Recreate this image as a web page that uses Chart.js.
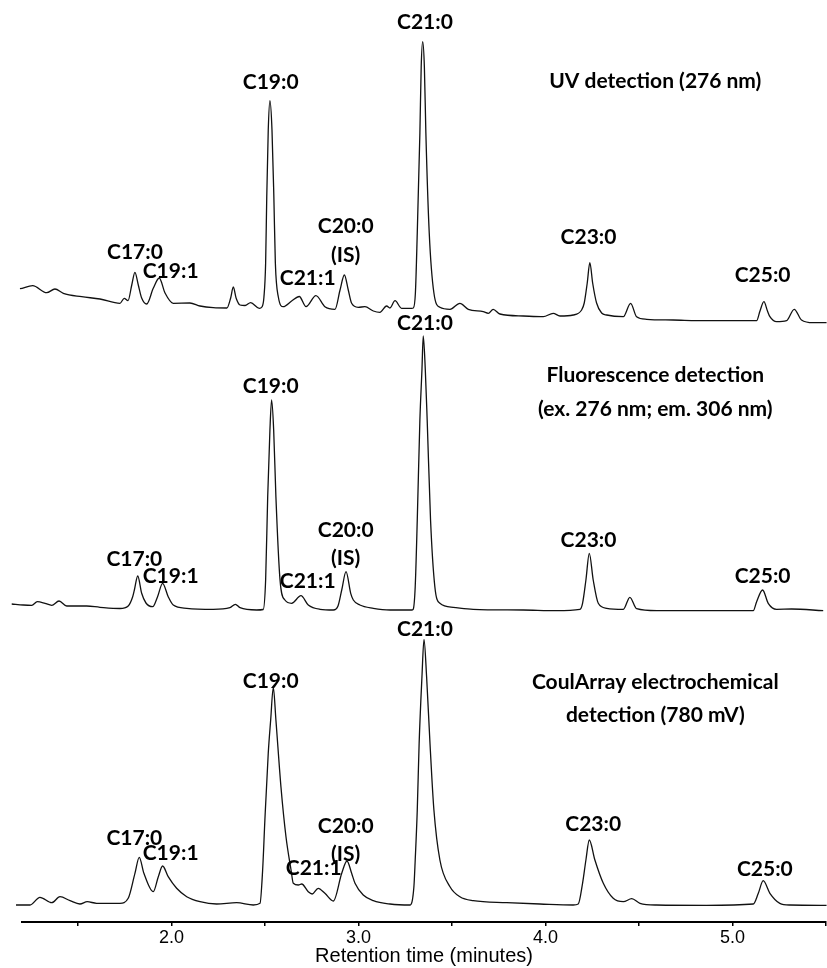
<!DOCTYPE html>
<html>
<head>
<meta charset="utf-8">
<script src="https://cdn.jsdelivr.net/npm/chart.js@4.4.1/dist/chart.umd.min.js"></script>
<style>
  html, body { margin: 0; padding: 0; background: #fff; }
  canvas { display: block; }
</style>
</head>
<body>
<canvas id="chart" width="827" height="968"></canvas>
<script>
// Retention time axis
const tickValues = [1.5, 2.0, 2.5, 3.0, 3.5, 4.0, 4.5, 5.0, 5.5];

// UV detection (276 nm) trace: time (min) / signal
const uvTime = [1.150,1.189,1.257,1.332,1.376,1.421,1.519,1.617,1.724,1.747,1.767,1.787,1.804,1.822,1.840,1.867,1.902,1.934,1.965,2.009,
  2.098,2.152,2.223,2.296,2.316,2.330,2.345,2.366,2.393,2.423,2.469,2.483,2.494,2.503,2.509,2.517,2.526,2.537,2.547,2.555,
  2.571,2.597,2.642,2.683,2.719,2.772,2.820,2.874,2.901,2.924,2.945,2.963,2.998,3.034,3.079,3.114,3.150,3.168,3.195,3.230,
  3.284,3.293,3.304,3.314,3.328,3.335,3.343,3.352,3.360,3.378,3.403,3.435,3.489,3.542,3.587,3.667,3.694,3.720,3.756,3.881,
  3.988,4.041,4.077,4.148,4.193,4.207,4.223,4.237,4.252,4.273,4.300,4.327,4.416,4.455,4.487,4.541,4.683,4.861,5.129,5.147,
  5.168,5.187,5.200,5.236,5.289,5.330,5.369,5.431,5.503];
const uvSignal = [35.7,36.3,39.3,32.3,36,31.7,28.3,26,21.7,26.7,24.3,40,52.7,40,27,21,36.7,47,32,21.7,
  22,19,17.3,17,27,38,27,20,19.5,22.3,16.7,18,28,62,128,195,224.3,195,128,62,
  28,18.3,24,28.5,18.3,29.3,18.3,15.7,35,50,35,21.7,17.7,18.3,14,12.7,19,17,24.3,16.7,
  16.7,17,32,92,192,258,283.3,258,192,92,32,17.7,15.7,21.7,15.7,13.3,11.7,15.7,11,9,
  8.3,11.7,9,10,15,22,42,62.3,42,22,12,10,8.3,21.7,8.3,5.7,5,4.3,4.3,14,
  23.3,14,8.3,3.3,4.3,15.7,5,2.3,2.3];

// Fluorescence detection trace
const flTime = [1.145,1.207,1.252,1.282,1.323,1.359,1.398,1.439,1.546,1.617,1.724,1.768,1.792,1.801,1.819,1.840,1.863,1.899,1.925,1.952,
  1.982,2.009,2.081,2.223,2.312,2.341,2.366,2.455,2.490,2.503,2.514,2.526,2.535,2.546,2.558,2.580,2.606,2.642,2.692,2.731,
  2.794,2.865,2.890,2.910,2.933,2.958,2.972,3.007,3.079,3.168,3.284,3.292,3.303,3.314,3.328,3.339,3.346,3.357,3.367,3.385,
  3.408,3.435,3.506,3.613,3.881,4.059,4.184,4.198,4.216,4.234,4.255,4.282,4.327,4.416,4.451,4.487,4.594,4.861,5.111,5.129,
  5.161,5.191,5.236,5.316,5.485];
const flSignal = [5,4,3.7,7.3,5.7,3.7,8,3,3,1.7,0.5,3,12.3,19,33,15.7,6,2.3,12.3,25.7,
  12.3,4,0.7,-0.3,1.3,4.7,1.3,-1,-0.5,29,112,179,209,179,112,29,9,5.7,13.3,4,
  -0.3,-1,3,19,37.3,15.7,9,4,0.7,-1,-1,-0.3,22.3,89,189,239,273,239,189,89,
  22.3,5.7,1.7,-0.3,-1,-1.7,-0.3,5.7,29,55.7,29,5.7,0.7,-0.3,11.7,0.3,-1.7,-1.7,-1.7,7.3,
  19,5.7,-0.3,0,-1.7];

// CoulArray electrochemical detection trace
const ecTime = [1.168,1.243,1.296,1.359,1.403,1.457,1.510,1.549,1.599,1.724,1.768,1.804,1.827,1.852,1.902,1.929,1.952,1.982,2.027,2.081,
  2.152,2.241,2.348,2.437,2.473,2.487,2.499,2.517,2.530,2.544,2.558,2.585,2.612,2.639,2.651,2.678,2.696,2.731,2.752,2.784,
  2.820,2.865,2.910,2.938,2.963,2.981,3.025,3.079,3.168,3.275,3.296,3.303,3.314,3.324,3.339,3.350,3.364,3.382,3.403,3.435,
  3.489,3.542,3.613,3.792,3.970,4.148,4.175,4.198,4.216,4.234,4.264,4.309,4.362,4.416,4.461,4.505,4.594,4.861,5.111,5.138,
  5.164,5.200,5.253,5.307,5.503];
const ecSignal = [0,0,7.7,2.3,8.3,4.3,1,3.3,1.7,1.7,6.7,31.7,47.7,31.7,13.3,28.3,39,28.3,16.7,8.3,
  3.3,1,2.3,0,1.7,35,85,151.7,185,217.7,185,118,68,35,21.7,20,21,13.3,11,16.7,
  11.7,4,31.7,44,31.7,21.7,10,4.3,1,0,18.3,45,95,161.7,228,265.7,228,161.7,95,45,
  18.3,8.3,4.3,2.3,1,0,1,21.7,45,65,45,21.7,6.7,3.3,6.3,1.7,0,-0.3,1,11.7,
  24.3,11.7,1.7,0,-0.3];

// peak / panel labels: [text, time, signal above the trace baseline]
const uvLabels = [['C17:0',1.804,72.5],['C19:1',1.995,53.3],['C19:0',2.530,242.7],['C21:1',2.728,46.7],
  ['C20:0',2.931,98.3],['(IS)',2.931,70],['C21:0',3.355,302.3],['C23:0',4.230,87.3],['C25:0',5.161,49.3],
  ['UV detection (276 nm)',4.587,244]];
const flLabels = [['C17:0',1.801,50],['C19:1',1.995,33],['C19:0',2.530,223],['C21:1',2.728,27.3],
  ['C20:0',2.931,79],['(IS)',2.931,50.7],['C21:0',3.355,285.7],['C23:0',4.230,69],['C25:0',5.161,32.3],
  ['Fluorescence detection',4.587,233.3],['(ex. 276 nm; em. 306 nm)',4.587,199.7]];
const ecLabels = [['C17:0',1.801,66.7],['C19:1',1.995,51.7],['C19:0',2.530,223.3],['C21:1',2.760,36.7],
  ['C20:0',2.931,78.3],['(IS)',2.931,50.7],['C21:0',3.355,276],['C23:0',4.255,80.7],['C25:0',5.173,35.7],
  ['CoulArray electrochemical',4.587,222.7],['detection (780 mV)',4.587,189.3]];

// stacking: each trace sits on its own baseline
const traces = [
  { time: uvTime, signal: uvSignal, labels: uvLabels, offset: 597 },
  { time: flTime, signal: flSignal, labels: flLabels, offset: 313 },
  { time: ecTime, signal: ecSignal, labels: ecLabels, offset: 17 }
];

const peakLabels = {
  id: 'peakLabels',
  afterDatasetsDraw(chart) {
    const c = chart.ctx, xs = chart.scales.x, ys = chart.scales.y;
    c.save();
    c.fillStyle = '#000';
    c.font = 'bold 21px Lato';
    c.textAlign = 'center';
    c.textBaseline = 'middle';
    traces.forEach(tr => {
      tr.labels.forEach(l => {
        c.fillText(l[0], xs.getPixelForValue(l[1]), ys.getPixelForValue(tr.offset + l[2]));
      });
    });
    c.restore();
  }
};

new Chart(document.getElementById('chart'), {
  type: 'line',
  data: {
    datasets: traces.map(tr => ({
      data: tr.time.map((t, i) => ({ x: t, y: tr.offset + tr.signal[i] })),
      borderColor: '#111',
      borderWidth: 1.3,
      pointRadius: 0,
      fill: false,
      cubicInterpolationMode: 'monotone',
      clip: false
    }))
  },
  options: {
    responsive: false,
    animation: false,
    layout: { padding: { left: 22, right: 1, top: 0, bottom: 0 } },
    plugins: { legend: { display: false }, tooltip: { enabled: false } },
    scales: {
      x: {
        type: 'linear',
        min: 1.2,
        max: 5.5,
        afterBuildTicks: s => { s.ticks = tickValues.map(v => ({ value: v })); },
        afterFit: s => { s.height = 46; },
        ticks: {
          autoSkip: false,
          maxRotation: 0,
          padding: 1,
          color: '#000',
          font: { family: 'Liberation Sans', size: 18 },
          callback: v => Math.abs(v - Math.round(v)) < 1e-9 ? Number(v).toFixed(1) : ''
        },
        grid: { drawOnChartArea: false, drawTicks: true, tickLength: 4, color: '#000', lineWidth: 1.5 },
        border: { display: true, color: '#000', width: 2 },
        title: {
          display: true,
          text: 'Retention time (minutes)',
          color: '#000',
          font: { family: 'Liberation Sans', size: 20 },
          padding: { top: 5, bottom: 0 }
        }
      },
      y: { display: false, min: 0, max: 922 }
    }
  },
  plugins: [peakLabels]
});
</script>
</body>
</html>
